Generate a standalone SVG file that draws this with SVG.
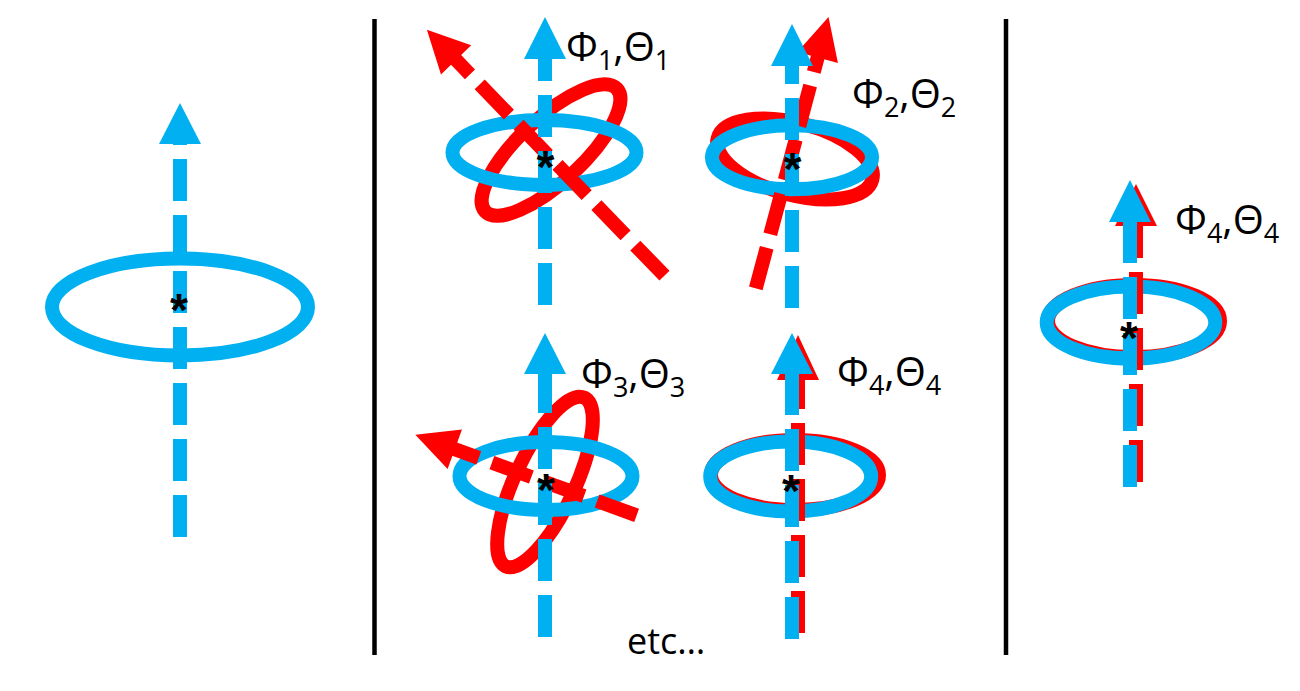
<svg xmlns="http://www.w3.org/2000/svg" width="1300" height="691" viewBox="0 0 1300 691">
<style>
.bl{stroke:#00B0F0;stroke-width:14;fill:none}
.rd{stroke:#FF0000;stroke-width:14;fill:none}
.dash{stroke-width:14;stroke-dasharray:42 14;fill:none}
.bd{stroke:#00B0F0}
.rdd{stroke:#FF0000}
.bh{fill:#00B0F0}
.rh{fill:#FF0000}
.star{font-family:"Liberation Sans",Arial,sans-serif;font-size:46px;font-weight:bold;fill:#000;text-anchor:middle}
.lab{font-family:"Open Sans","Liberation Sans",sans-serif;font-size:40px;fill:#000}
.sub{font-size:27px}
.etc{font-family:"Open Sans","Liberation Sans",sans-serif;font-size:36px;fill:#000}
.sep{stroke:#000;stroke-width:4.5}
</style>
<rect width="1300" height="691" fill="#fff"/>
<g id="separators">
<line class="sep" x1="374.5" y1="19" x2="374.5" y2="655"/>
<line class="sep" x1="1006" y1="19" x2="1006" y2="655"/>
</g>

<g id="panel1">
<ellipse class="bl" cx="180" cy="307" rx="128" ry="48.5"/>
<g transform="translate(180,307)">
<line class="dash bd" x1="0" y1="230" x2="0" y2="-164"/>
<polygon class="bh" points="0,-204 -21,-163 21,-163"/>
</g>
<text class="star" x="179" y="326">*</text>
</g>

<g id="panel2">
<ellipse class="rd" cx="551" cy="150" rx="90" ry="32" transform="rotate(-43 551 150)"/>
<ellipse class="bl" cx="544.5" cy="152.5" rx="92" ry="32.5"/>
<g transform="translate(545,152) rotate(-44)">
<line class="dash rdd" x1="0" y1="172" x2="0" y2="-129"/>
<polygon class="rh" points="0,-170 -21,-128 21,-128"/>
</g>
<g transform="translate(545,152)">
<line class="dash bd" x1="0" y1="153" x2="0" y2="-94"/>
<polygon class="bh" points="0,-135 -21,-93 21,-93"/>
</g>
<text class="star" x="545.5" y="183">*</text>
<text class="lab" x="566" y="61">Φ<tspan class="sub" dy="9">1</tspan><tspan dy="-9">,Θ</tspan><tspan class="sub" dy="9">1</tspan></text>
</g>

<g id="panel3">
<ellipse class="rd" cx="795" cy="159" rx="80" ry="36" transform="rotate(15 795 159)"/>
<ellipse class="bl" cx="792" cy="157.3" rx="80" ry="32"/>
<g transform="translate(791,157) rotate(15)">
<line class="dash rdd" x1="0" y1="136" x2="0" y2="-104"/>
<polygon class="rh" points="0,-145 -21,-103 21,-103"/>
</g>
<g transform="translate(792,157)">
<line class="dash bd" x1="0" y1="151" x2="0" y2="-92"/>
<polygon class="bh" points="0,-133 -21,-91 21,-91"/>
</g>
<text class="star" x="792.5" y="184.5">*</text>
<text class="lab" x="852" y="108">Φ<tspan class="sub" dy="9">2</tspan><tspan dy="-9">,Θ</tspan><tspan class="sub" dy="9">2</tspan></text>
</g>

<g id="panel4">
<ellipse class="rd" cx="545" cy="482" rx="30" ry="93" transform="rotate(25 545 482)"/>
<ellipse class="bl" cx="546" cy="476" rx="86.5" ry="34"/>
<g transform="translate(545,482) rotate(-70)">
<line class="dash rdd" x1="0" y1="97.5" x2="0" y2="-97"/>
<polygon class="rh" points="0,-138 -21,-96 21,-96"/>
</g>
<g transform="translate(545,476)">
<line class="dash bd" x1="0" y1="161" x2="0" y2="-103"/>
<polygon class="bh" points="0,-143 -21,-102 21,-102"/>
</g>
<text class="star" x="546" y="505.5">*</text>
<text class="lab" x="581" y="388">Φ<tspan class="sub" dy="9">3</tspan><tspan dy="-9">,Θ</tspan><tspan class="sub" dy="9">3</tspan></text>
</g>

<g id="panel5">
<ellipse class="rd" cx="795" cy="475" rx="84" ry="35"/>
<ellipse class="bl" cx="790.7" cy="476.5" rx="80.5" ry="35"/>
<g transform="translate(798,476)">
<line class="dash rdd" x1="0" y1="157" x2="0" y2="-97"/>
<polygon class="rh" points="0,-141 -21,-96 21,-96"/>
</g>
<g transform="translate(792,476)">
<line class="dash bd" x1="0" y1="163" x2="0" y2="-103"/>
<polygon class="bh" points="0,-143 -21,-102 21,-102"/>
</g>
<text class="star" x="791" y="506.5">*</text>
<text class="lab" x="837" y="386">Φ<tspan class="sub" dy="9">4</tspan><tspan dy="-9">,Θ</tspan><tspan class="sub" dy="9">4</tspan></text>
</g>

<g id="panel6">
<ellipse class="rd" cx="1134" cy="321" rx="86" ry="36"/>
<ellipse class="bl" cx="1131" cy="322.5" rx="84.3" ry="36"/>
<g transform="translate(1136,322)">
<line class="dash rdd" x1="0" y1="160" x2="0" y2="-97"/>
<polygon class="rh" points="0,-138 -21,-96 21,-96"/>
</g>
<g transform="translate(1130,322)">
<line class="dash bd" x1="0" y1="165" x2="0" y2="-100.5"/>
<polygon class="bh" points="0,-142 -21,-100 21,-100"/>
</g>
<text class="star" x="1129" y="354">*</text>
<text class="lab" x="1175" y="234">Φ<tspan class="sub" dy="9">4</tspan><tspan dy="-9">,Θ</tspan><tspan class="sub" dy="9">4</tspan></text>
</g>

<text id="etc" class="etc" x="627" y="654">etc…</text>
</svg>
